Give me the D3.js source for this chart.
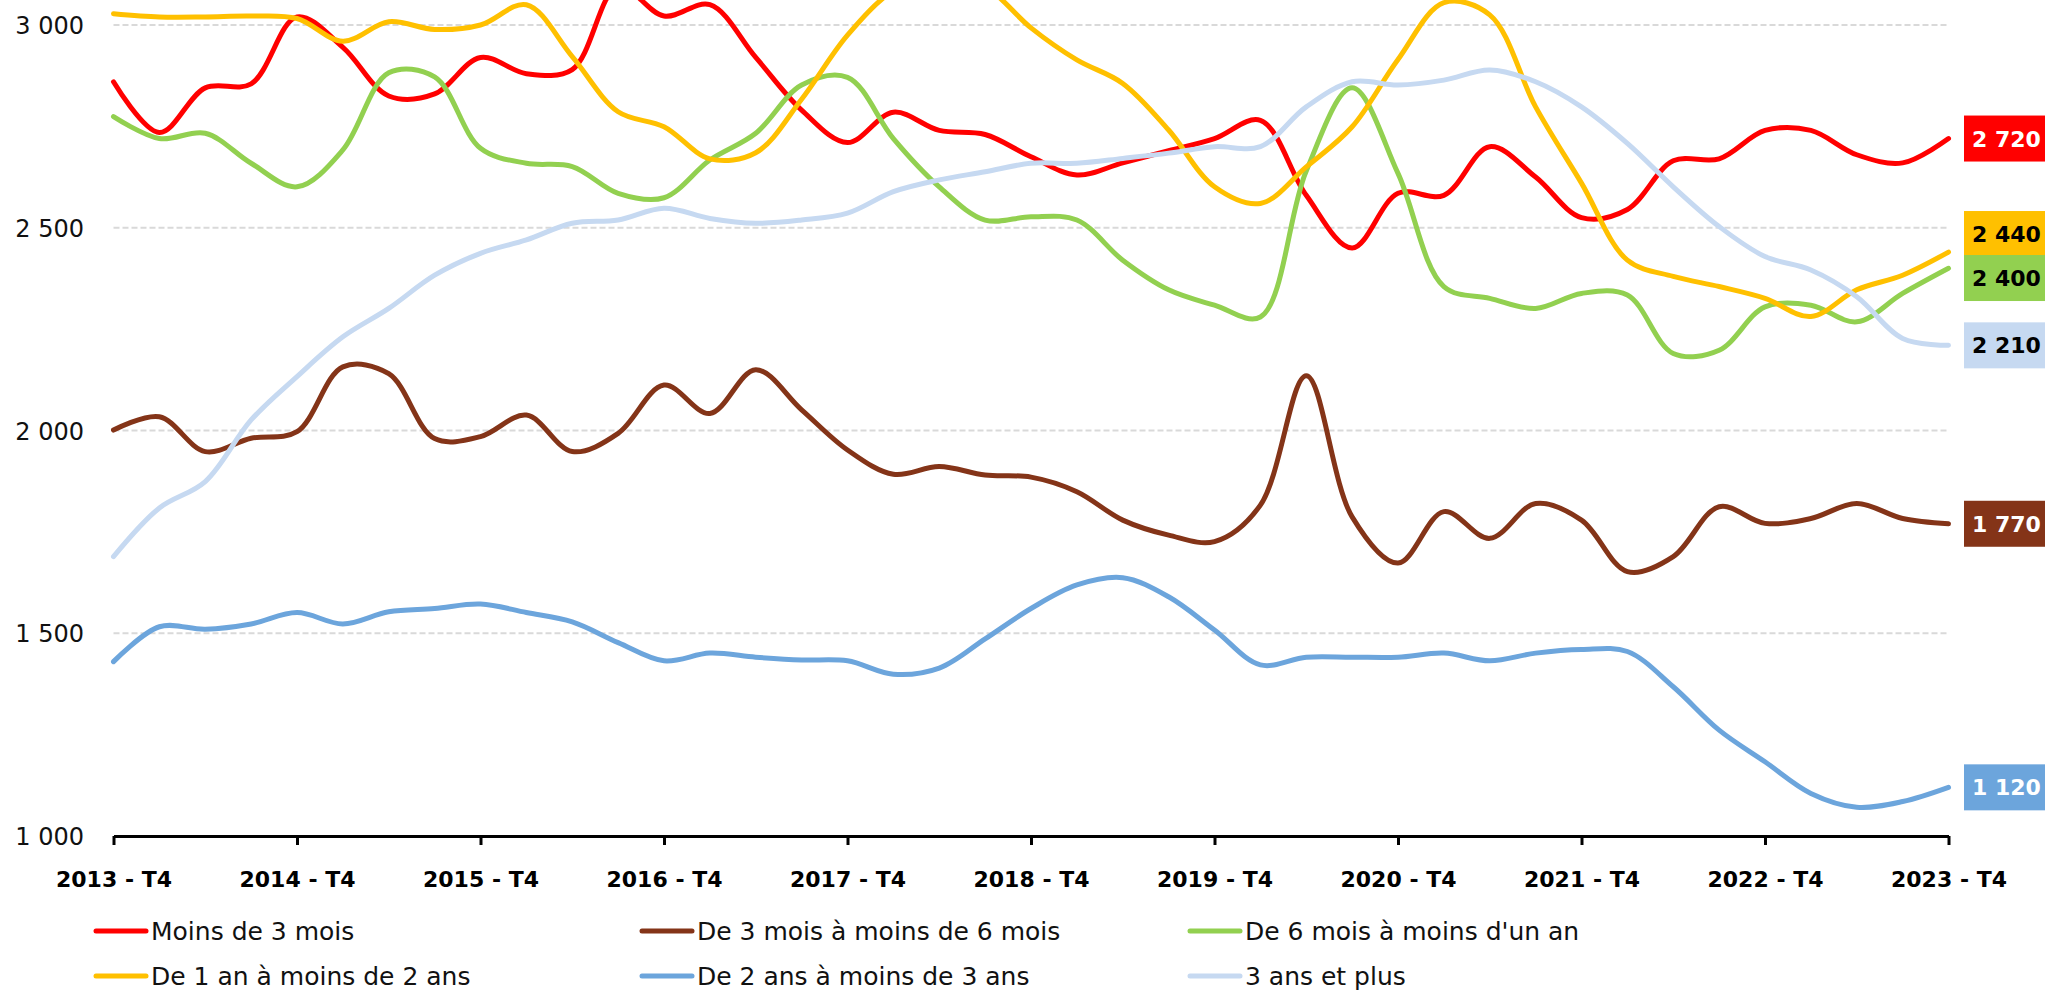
<!DOCTYPE html>
<html>
<head>
<meta charset="utf-8">
<script src="https://cdn.jsdelivr.net/npm/d3@7"></script>
<style>
  html, body { margin: 0; padding: 0; background: #ffffff; }
  svg { display: block; }
</style>
</head>
<body>
<svg id="chart" width="2045" height="992"></svg>
<script>
// ---------- DATA ----------
const quarters = [
  "2013 - T4",
  "2014 - T1","2014 - T2","2014 - T3","2014 - T4",
  "2015 - T1","2015 - T2","2015 - T3","2015 - T4",
  "2016 - T1","2016 - T2","2016 - T3","2016 - T4",
  "2017 - T1","2017 - T2","2017 - T3","2017 - T4",
  "2018 - T1","2018 - T2","2018 - T3","2018 - T4",
  "2019 - T1","2019 - T2","2019 - T3","2019 - T4",
  "2020 - T1","2020 - T2","2020 - T3","2020 - T4",
  "2021 - T1","2021 - T2","2021 - T3","2021 - T4",
  "2022 - T1","2022 - T2","2022 - T3","2022 - T4",
  "2023 - T1","2023 - T2","2023 - T3","2023 - T4"
];
const xTickLabels = ["2013 - T4","2014 - T4","2015 - T4","2016 - T4","2017 - T4","2018 - T4",
                     "2019 - T4","2020 - T4","2021 - T4","2022 - T4","2023 - T4"];
const yTickValues = [1000, 1500, 2000, 2500, 3000];

const seriesNames = [
  "Moins de 3 mois",
  "De 3 mois à moins de 6 mois",
  "De 6 mois à moins d'un an",
  "De 1 an à moins de 2 ans",
  "De 2 ans à moins de 3 ans",
  "3 ans et plus"
];
const moins3mois = [2860, 2735, 2845, 2855, 3020, 2945, 2825, 2830, 2920, 2880, 2890, 3095, 3022, 3050, 2920, 2790, 2710, 2785, 2740, 2730, 2675, 2630, 2660, 2690, 2720, 2765, 2580, 2450, 2585, 2580, 2700, 2625, 2525, 2545, 2665, 2670, 2740, 2740, 2680, 2660, 2720];
const de3a6mois = [2001, 2034, 1948, 1981, 1997, 2157, 2140, 1980, 1985, 2038, 1948, 1993, 2112, 2042, 2150, 2051, 1952, 1892, 1911, 1890, 1885, 1849, 1779, 1742, 1726, 1816, 2135, 1787, 1673, 1800, 1734, 1820, 1779, 1652, 1689, 1812, 1771, 1783, 1820, 1783, 1770];
const de6moisa1an = [2774, 2720, 2733, 2659, 2601, 2692, 2882, 2872, 2696, 2659, 2651, 2585, 2574, 2667, 2733, 2852, 2871, 2720, 2601, 2519, 2527, 2519, 2420, 2347, 2309, 2280, 2640, 2845, 2634, 2355, 2326, 2301, 2338, 2334, 2190, 2198, 2305, 2309, 2268, 2338, 2400];
const de1a2ans = [3028, 3020, 3020, 3022, 3016, 2960, 3008, 2989, 3000, 3050, 2922, 2786, 2749, 2670, 2685, 2817, 2975, 3085, 3130, 3095, 2993, 2914, 2856, 2741, 2601, 2560, 2650, 2749, 2915, 3055, 3025, 2798, 2610, 2420, 2380, 2355, 2326, 2281, 2347, 2383, 2440];
const de2a3ans = [1430, 1516, 1510, 1523, 1551, 1523, 1553, 1561, 1572, 1551, 1528, 1477, 1432, 1451, 1441, 1434, 1432, 1399, 1414, 1486, 1561, 1619, 1637, 1590, 1508, 1422, 1441, 1441, 1441, 1451, 1432, 1451, 1460, 1455, 1368, 1261, 1183, 1105, 1071, 1085, 1120];
const plus3ans = [1689, 1809, 1874, 2026, 2133, 2231, 2301, 2383, 2437, 2470, 2511, 2519, 2548, 2523, 2511, 2519, 2536, 2589, 2618, 2638, 2659, 2659, 2671, 2684, 2700, 2700, 2798, 2860, 2852, 2864, 2889, 2860, 2798, 2708, 2601, 2503, 2429, 2396, 2330, 2227, 2210];

const endLabels = ["2 720", "1 770", "2 400", "2 440", "1 120", "2 210"];
const seriesColors = ["#FF0000", "#843418", "#92D050", "#FFC000", "#6CA5DC", "#C6D9F1"];
const labelTextColors = ["#ffffff", "#ffffff", "#000000", "#000000", "#ffffff", "#000000"];

const seriesValues = [moins3mois, de3a6mois, de6moisa1an, de1a2ans, de2a3ans, plus3ans];

// ---------- LAYOUT ----------
const svg = d3.select("#chart");
const x0 = 113.5, x1 = 1948.5;
const yTop = 25, yBottom = 836;

const x = d3.scalePoint().domain(quarters).range([x0, x1]);
const y = d3.scaleLinear().domain([1000, 3000]).range([yBottom, yTop]);

const frLocale = d3.formatLocale({decimal: ",", thousands: "\u2009", grouping: [3], currency: ["", "€"]});
const fmt = frLocale.format(",d");

// gridlines
svg.append("g").selectAll("line")
  .data(yTickValues.filter(v => v !== 1000))
  .join("line")
  .attr("x1", x0).attr("x2", x1)
  .attr("y1", d => y(d)).attr("y2", d => y(d))
  .attr("stroke", "#D9D9D9")
  .attr("stroke-width", 2)
  .attr("stroke-dasharray", "6,3");

// y axis labels
const yAxis = d3.axisLeft(y).tickValues(yTickValues).tickSize(0).tickPadding(0)
  .tickFormat(d => fmt(d).replace("\u2009", " "));
const gy = svg.append("g").attr("transform", "translate(84,0)").call(yAxis);
gy.select(".domain").remove();
gy.selectAll("text")
  .attr("font-family", "'DejaVu Sans', sans-serif")
  .attr("font-weight", "normal")
  .attr("font-size", 24)
  .attr("fill", "#111")
  .attr("dy", "0.36em");

// lines
const line = d3.line()
  .x((d, i) => x(quarters[i]))
  .y(d => y(d))
  .curve(d3.curveCatmullRom.alpha(0.5));

svg.append("g").selectAll("path")
  .data(seriesValues)
  .join("path")
  .attr("d", d => line(d))
  .attr("fill", "none")
  .attr("stroke", (d, i) => seriesColors[i])
  .attr("stroke-width", 5)
  .attr("stroke-linejoin", "round")
  .attr("stroke-linecap", "round");

// x axis
const xAxis = d3.axisBottom(x).tickValues(xTickLabels).tickSizeInner(9).tickSizeOuter(0).tickPadding(0)
  .tickFormat(d => d);
const gx = svg.append("g").attr("transform", `translate(0,${yBottom})`).call(xAxis);
gx.select(".domain").attr("stroke", "#000").attr("stroke-width", 3);
gx.selectAll(".tick line").attr("stroke", "#000").attr("stroke-width", 3);
gx.selectAll(".tick text")
  .attr("font-family", "'DejaVu Sans', sans-serif")
  .attr("font-weight", "bold")
  .attr("font-size", 22)
  .attr("fill", "#000")
  .attr("text-anchor", "middle")
  .attr("y", 51)
  .attr("dy", 0);

// end labels with simple collision resolution
const boxH = 44;
const labs = seriesValues.map((vals, i) => ({i, y: y(vals[vals.length - 1])}));
labs.sort((a, b) => a.y - b.y);
for (let k = 1; k < labs.length; k++) {
  const gap = labs[k].y - labs[k - 1].y;
  if (gap < boxH) {
    const ov = boxH - gap;
    labs[k - 1].y -= ov * 0.65;
    labs[k].y += ov * 0.35;
  }
}
const gl = svg.append("g");
labs.forEach(l => {
  gl.append("rect")
    .attr("x", 1964).attr("y", l.y - 23)
    .attr("width", 90).attr("height", 46)
    .attr("fill", seriesColors[l.i]);
  gl.append("text")
    .attr("x", 1972).attr("y", l.y + 8)
    .attr("font-family", "'DejaVu Sans', sans-serif")
    .attr("font-weight", "bold")
    .attr("font-size", 22)
    .attr("fill", labelTextColors[l.i])
    .text(endLabels[l.i]);
});

// legend
const legendCols = [94, 640, 1188];
const legendRows = [931, 976];
const lg = svg.append("g");
seriesNames.forEach((name, i) => {
  const cx = legendCols[i % 3], cy = legendRows[Math.floor(i / 3)];
  lg.append("line")
    .attr("x1", cx + 2).attr("x2", cx + 52)
    .attr("y1", cy).attr("y2", cy)
    .attr("stroke", seriesColors[i])
    .attr("stroke-width", 5)
    .attr("stroke-linecap", "round");
  lg.append("text")
    .attr("x", cx + 57).attr("y", cy + 9)
    .attr("font-family", "'DejaVu Sans', sans-serif")
    .attr("font-weight", "normal")
    .attr("font-size", 25)
    .attr("fill", "#111")
    .text(name);
});
</script>
</body>
</html>
